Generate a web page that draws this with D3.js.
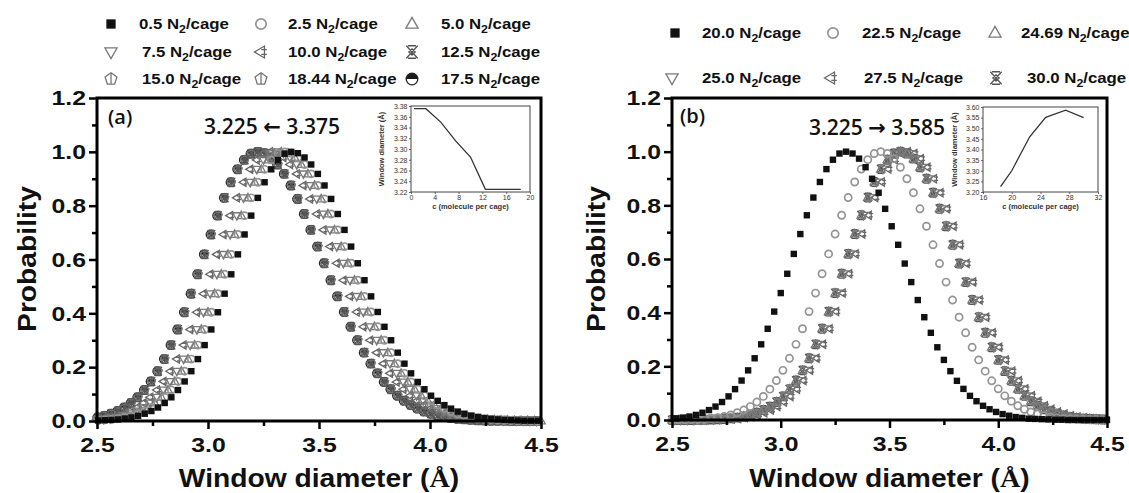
<!DOCTYPE html>
<html>
<head>
<meta charset="utf-8">
<script src="https://cdn.jsdelivr.net/npm/d3@7"></script>
<style>
  body { margin: 0; background: #fff; }
  svg { display: block; }
</style>
</head>
<body>
<svg id="chart" width="1129" height="493"></svg>
<script>
// ---------------------------------------------------------------
// Window-diameter probability distributions at increasing N2 loading
// ---------------------------------------------------------------

// Sampling offsets (Å) from each distribution's peak
const offsets = d3.range(-37, 43).map(n => +(n * 0.03).toFixed(2));

// Shared profile, rising flank (far tail -> peak)
const profileLeft = [0, 0, 0, 0, 0, 0, 0.001, 0.001, 0.002, 0.003, 0.004, 0.006, 0.009,
  0.013, 0.019, 0.027, 0.037, 0.050, 0.067, 0.088, 0.115, 0.147, 0.185, 0.230, 0.282,
  0.340, 0.404, 0.473, 0.545, 0.619, 0.693, 0.763, 0.829, 0.887, 0.935, 0.970, 0.993];
// Falling flank, panel (a) (peak -> far tail)
const profileRightA = [0.995, 0.979, 0.953, 0.918, 0.875, 0.825, 0.769, 0.710, 0.648, 0.586,
  0.523, 0.463, 0.405, 0.350, 0.300, 0.254, 0.213, 0.177, 0.145, 0.118,
  0.094, 0.075, 0.059, 0.046, 0.035, 0.027, 0.020, 0.015, 0.011, 0.008,
  0.006, 0.004, 0.003, 0.002, 0.001, 0.001, 0.001, 0, 0, 0, 0, 0];
// Falling flank, panel (b)
const profileRightB = [0.993, 0.974, 0.942, 0.899, 0.847, 0.787, 0.722, 0.653, 0.583, 0.514,
  0.447, 0.383, 0.325, 0.271, 0.224, 0.182, 0.146, 0.116, 0.090, 0.070,
  0.053, 0.040, 0.030, 0.022, 0.016, 0.011, 0.008, 0.005, 0.004, 0.003,
  0.002, 0.001, 0.001, 0, 0, 0, 0, 0, 0, 0, 0, 0];

const profileA = [...profileLeft, 1, ...profileRightA];
const profileB = [...profileLeft, 1, ...profileRightB];

// Panel (a): loadings (legend order), peak diameters and symbols
const labelsA  = ["0.5", "2.5", "5.0", "7.5", "10.0", "12.5", "15.0", "18.44", "17.5"];
const peaksA   = [3.375, 3.345, 3.33, 3.31, 3.28, 3.225, 3.225, 3.225, 3.22];
const symbolsA = ["square", "circle", "triUp", "triDown", "triLeft", "star", "penta", "penta", "half"];

// Panel (b)
const labelsB  = ["20.0", "22.5", "24.69", "25.0", "27.5", "30.0"];
const peaksB   = [3.30, 3.46, 3.55, 3.56, 3.585, 3.55];
const symbolsB = ["square", "circle", "triUp", "triDown", "triLeft", "star"];

// Inset series: peak window diameter vs loading
const insetA_c = [0.5, 2.5, 5.0, 7.5, 10.0, 12.5, 15.0, 17.5, 18.44];
const insetA_d = [3.375, 3.375, 3.35, 3.315, 3.285, 3.225, 3.225, 3.225, 3.225];
const insetB_c = [18.44, 20.0, 22.5, 24.69, 25.0, 27.5, 30.0];
const insetB_d = [3.225, 3.30, 3.46, 3.55, 3.555, 3.585, 3.55];

// Tick values
const diamTicks  = [2.5, 3.0, 3.5, 4.0, 4.5];
const diamMinor  = [2.75, 3.25, 3.75, 4.25];
const probTicks  = [0, 0.2, 0.4, 0.6, 0.8, 1.0, 1.2];
const probMinor  = [0.1, 0.3, 0.5, 0.7, 0.9, 1.1];
const insetATicksX = [0, 4, 8, 12, 16, 20];
const insetATicksY = [3.22, 3.24, 3.26, 3.28, 3.30, 3.32, 3.34, 3.36, 3.38];
const insetBTicksX = [16, 20, 24, 28, 32];
const insetBTicksY = [3.20, 3.25, 3.30, 3.35, 3.40, 3.45, 3.50, 3.55, 3.60];

// ---------------------------------------------------------------
const svg = d3.select("#chart");
const SANS = "'Liberation Sans', Arial, sans-serif";
const ANNOT = "'Open Sans', 'DejaVu Sans', sans-serif";

function stretch(sel, k) {
  sel.each(function () {
    const t = d3.select(this);
    const x = +(t.attr("x") || 0);
    t.attr("x", x / k).attr("transform", `scale(${k},1)`);
  });
}

// Marker glyphs centred on (0,0); k scales the glyph
function drawSymbol(g, type, k) {
  const sw = 1.3;
  switch (type) {
    case "square":
      g.append("rect").attr("x", -3.2 * k).attr("y", -3.2 * k)
        .attr("width", 6.4 * k).attr("height", 6.4 * k).attr("fill", "#111");
      break;
    case "circle":
      g.append("circle").attr("r", 3.6 * k).attr("fill", "none")
        .attr("stroke", "#949494").attr("stroke-width", 1.7);
      break;
    case "triUp":
      g.append("path").attr("d", `M0,${-4.6 * k}L${4.2 * k},${2.9 * k}L${-4.2 * k},${2.9 * k}Z`)
        .attr("fill", "none").attr("stroke", "#7a7a7a").attr("stroke-width", sw);
      break;
    case "triDown":
      g.append("path").attr("d", `M0,${4.6 * k}L${4.2 * k},${-2.9 * k}L${-4.2 * k},${-2.9 * k}Z`)
        .attr("fill", "none").attr("stroke", "#7a7a7a").attr("stroke-width", sw);
      break;
    case "triLeft":
      g.append("path").attr("d",
        `M${-4.5 * k},0L${2.4 * k},${-4.1 * k}L${2.4 * k},${4.1 * k}Z` +
        `M${2.4 * k},${-4.5 * k}L${2.4 * k},${4.5 * k}` +
        `M${0.2 * k},${-1.7 * k}L${4 * k},${-1.7 * k}M${0.2 * k},${1.7 * k}L${4 * k},${1.7 * k}`)
        .attr("fill", "none").attr("stroke", "#666").attr("stroke-width", sw);
      break;
    case "star":
      g.append("path").attr("d",
        `M${-3.9 * k},${-4.3 * k}L${3.9 * k},${4.3 * k}M${3.9 * k},${-4.3 * k}L${-3.9 * k},${4.3 * k}` +
        `M${-2.8 * k},${-4.3 * k}L${2.8 * k},${-4.3 * k}M${-2.8 * k},${4.3 * k}L${2.8 * k},${4.3 * k}` +
        `M0,${-2.2 * k}L${2.2 * k},0L0,${2.2 * k}L${-2.2 * k},0Z`)
        .attr("fill", "none").attr("stroke", "#555").attr("stroke-width", sw);
      break;
    case "penta": {
      const pts = d3.range(5).map(i => {
        const a = -Math.PI / 2 + i * 2 * Math.PI / 5;
        return [Math.cos(a) * 4.3 * k, Math.sin(a) * 4.3 * k];
      });
      g.append("path").attr("d", "M" + pts.map(p => p.join(",")).join("L") + "Z" +
        `M0,${-4.3 * k}L0,${3.5 * k}`)
        .attr("fill", "none").attr("stroke", "#777").attr("stroke-width", sw);
      break;
    }
    case "half":
      g.append("path").attr("d",
        `M${-4 * k},0A${4 * k},${4 * k} 0 0 1 ${4 * k},0Z`).attr("fill", "#1a1a1a");
      g.append("circle").attr("r", 4 * k).attr("fill", "none")
        .attr("stroke", "#222").attr("stroke-width", sw);
      break;
  }
}

function drawPanel(cfg) {
  const x = d3.scaleLinear().domain([2.5, 4.5]).range([cfg.x0, cfg.x1]);
  const y = d3.scaleLinear().domain([0, 1.2]).range([cfg.yb, cfg.yt]);
  const gm = svg.append("g");

  // series, drawn last-to-first so the lowest loading ends up on top
  for (let s = cfg.peaks.length - 1; s >= 0; s--) {
    const peak = cfg.peaks[s];
    offsets.forEach((o, i) => {
      const xv = peak + o;
      if (xv < 2.495 || xv > 4.505) return;
      const g = gm.append("g")
        .attr("transform", `translate(${x(xv)},${y(cfg.profile[i])})`);
      drawSymbol(g, cfg.symbols[s], 1);
    });
  }

  // frame
  svg.append("rect").attr("x", cfg.x0).attr("y", cfg.yt)
    .attr("width", cfg.x1 - cfg.x0).attr("height", cfg.yb - cfg.yt)
    .attr("fill", "none").attr("stroke", "#000").attr("stroke-width", 3);

  // x axis
  const gx = svg.append("g").attr("transform", `translate(0,${cfg.yb})`);
  gx.append("g").call(d3.axisBottom(x).tickValues(diamMinor).tickSize(5).tickFormat(""));
  gx.append("g").call(d3.axisBottom(x).tickValues(diamTicks).tickSize(8).tickPadding(8)
    .tickFormat(d3.format(".1f")));
  gx.selectAll(".domain").remove();
  gx.selectAll("line").attr("stroke", "#000").attr("stroke-width", 2.5);
  gx.selectAll("text").attr("font-family", SANS).attr("font-weight", "bold")
    .attr("font-size", 21).attr("fill", "#111").call(stretch, 1.18);

  // y axis
  const gy = svg.append("g").attr("transform", `translate(${cfg.x0},0)`);
  gy.append("g").call(d3.axisLeft(y).tickValues(probMinor).tickSize(5).tickFormat(""));
  gy.append("g").call(d3.axisLeft(y).tickValues(probTicks).tickSize(8).tickPadding(3)
    .tickFormat(d3.format(".1f")));
  gy.selectAll(".domain").remove();
  gy.selectAll("line").attr("stroke", "#000").attr("stroke-width", 2.5);
  gy.selectAll("text").attr("font-family", SANS).attr("font-weight", "bold")
    .attr("font-size", 21).attr("fill", "#111").call(stretch, 1.18);

  // axis titles
  const xt = svg.append("text")
    .attr("transform", `translate(${(cfg.x0 + cfg.x1) / 2},487) scale(1.13,1)`)
    .attr("text-anchor", "middle").attr("font-family", SANS).attr("font-weight", "bold")
    .attr("font-size", 25).attr("fill", "#111");
  xt.append("tspan").text("Window diameter (");
  xt.append("tspan").attr("font-family", "'Liberation Serif', serif").text("Å");
  xt.append("tspan").text(")");

  svg.append("text")
    .attr("transform", `translate(${cfg.ylabX},259) rotate(-90) scale(1.13,1)`)
    .attr("text-anchor", "middle").attr("font-family", SANS).attr("font-weight", "bold")
    .attr("font-size", 25).attr("fill", "#111").text("Probability");

  // panel tag and peak-shift annotation
  svg.append("text").attr("x", cfg.tagX).attr("y", cfg.tagY)
    .attr("font-family", ANNOT).attr("font-weight", 600).attr("font-size", 20)
    .attr("fill", "#111").text(cfg.tag);
  svg.append("text").attr("x", cfg.annX).attr("y", cfg.annY).attr("text-anchor", "middle")
    .attr("font-family", ANNOT).attr("font-weight", 600).attr("font-size", 21)
    .attr("fill", "#111").text(cfg.ann);

  // legend
  cfg.labels.forEach((lab, i) => {
    const r = Math.floor(i / 3), c = i % 3;
    const ly = cfg.legRows[r];
    const g = svg.append("g").attr("transform", `translate(${cfg.legSymX[r][c]},${ly})`);
    drawSymbol(g, cfg.symbols[i], 1.45);
    const t = svg.append("text")
      .attr("transform", `translate(${cfg.legTextX[r][c]},${ly + 5}) scale(1.12,1)`)
      .attr("font-family", SANS).attr("font-weight", "bold").attr("font-size", 15).attr("fill", "#111");
    t.append("tspan").text(lab + " N");
    t.append("tspan").attr("font-size", 11).attr("dy", 4).text("2");
    t.append("tspan").attr("dy", -4).text("/cage");
  });
}

function drawInset(cfg) {
  const x = d3.scaleLinear().domain(cfg.xd).range([cfg.x0, cfg.x1]);
  const y = d3.scaleLinear().domain(cfg.yd).range([cfg.yb, cfg.yt]);
  svg.append("rect").attr("x", cfg.x0).attr("y", cfg.yt)
    .attr("width", cfg.x1 - cfg.x0).attr("height", cfg.yb - cfg.yt)
    .attr("fill", "#fff").attr("stroke", "#444").attr("stroke-width", 1);

  const line = d3.line().x((d, i) => x(cfg.c[i])).y(d => y(d));
  svg.append("path").datum(cfg.d).attr("d", line)
    .attr("fill", "none").attr("stroke", "#333").attr("stroke-width", 1.3);

  const gx = svg.append("g").attr("transform", `translate(0,${cfg.yb})`)
    .call(d3.axisBottom(x).tickValues(cfg.tx).tickSize(2).tickPadding(1.5).tickFormat(d3.format("d")));
  const gy = svg.append("g").attr("transform", `translate(${cfg.x0},0)`)
    .call(d3.axisLeft(y).tickValues(cfg.ty).tickSize(2).tickPadding(1.5).tickFormat(d3.format(".2f")));
  [gx, gy].forEach(g => {
    g.selectAll(".domain").remove();
    g.selectAll("line").attr("stroke", "#444").attr("stroke-width", 0.8);
    g.selectAll("text").attr("font-family", SANS).attr("font-size", 7).attr("fill", "#333");
  });

  svg.append("text").attr("x", (cfg.x0 + cfg.x1) / 2).attr("y", cfg.yb + 17)
    .attr("text-anchor", "middle").attr("font-family", SANS).attr("font-weight", "bold")
    .attr("font-size", 7.5).attr("fill", "#333").text("c (molecule per cage)");
  svg.append("text")
    .attr("transform", `translate(${cfg.ytX},${(cfg.yt + cfg.yb) / 2}) rotate(-90)`)
    .attr("text-anchor", "middle").attr("font-family", SANS).attr("font-weight", "bold")
    .attr("font-size", 7.5).attr("fill", "#333").text("Window diameter (Å)");
}

drawPanel({
  x0: 97, x1: 541, yb: 421, yt: 98,
  peaks: peaksA, profile: profileA, symbols: symbolsA, labels: labelsA,
  ylabX: 36, tag: "(a)", tagX: 108, tagY: 124,
  ann: "3.225 \u2190 3.375", annX: 272, annY: 134,
  legRows: [24, 52, 79],
  legSymX: [[111, 261, 412], [111, 261, 412], [111, 261, 412]],
  legTextX: [[139, 288, 441], [142, 288, 441], [142, 288, 441]]
});

drawPanel({
  x0: 672, x1: 1107, yb: 420, yt: 98,
  peaks: peaksB, profile: profileB, symbols: symbolsB, labels: labelsB,
  ylabX: 605, tag: "(b)", tagX: 680, tagY: 123,
  ann: "3.225 \u2192 3.585", annX: 877, annY: 135,
  legRows: [33, 78],
  legSymX: [[675, 833, 995], [672, 831, 996]],
  legTextX: [[702, 862, 1021], [702, 864, 1027]]
});

drawInset({
  x0: 411, x1: 530, yt: 106, yb: 192, xd: [0, 20], yd: [3.22, 3.38],
  c: insetA_c, d: insetA_d, tx: insetATicksX, ty: insetATicksY, ytX: 384
});

drawInset({
  x0: 983, x1: 1098, yt: 107, yb: 192, xd: [16, 32], yd: [3.20, 3.60],
  c: insetB_c, d: insetB_d, tx: insetBTicksX, ty: insetBTicksY, ytX: 957
});
</script>
</body>
</html>
